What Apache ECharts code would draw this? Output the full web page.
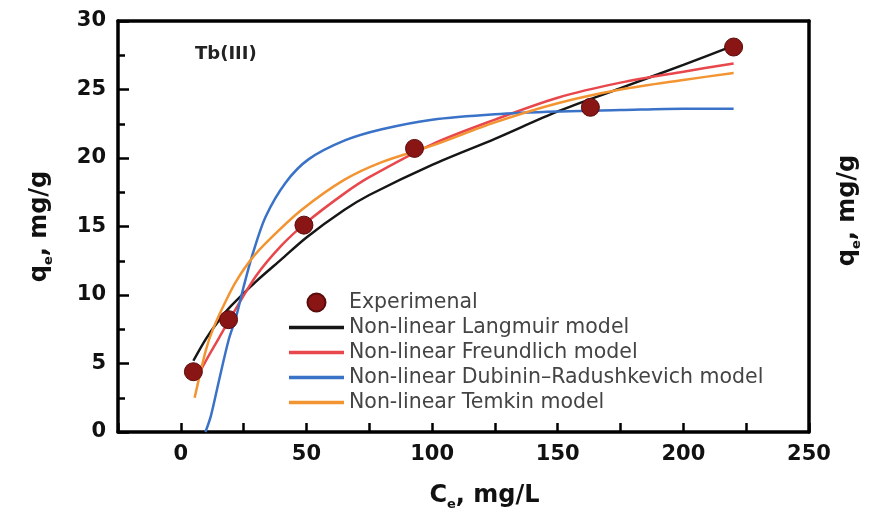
<!DOCTYPE html>
<html>
<head>
<meta charset="utf-8">
<script src="https://cdn.jsdelivr.net/npm/echarts@6/dist/echarts.min.js"></script>
<style>
html,body{margin:0;padding:0;background:#fff}
#main{width:871px;height:520px}
</style>
</head>
<body>
<div id="main"></div>
<script>
// experimental points
var expC = [5, 19, 49, 93, 163, 220];
var expQ = [4.4, 8.2, 15.1, 20.7, 23.7, 28.1];

// model curves
var langC = [5, 10, 15, 20, 30, 40, 50, 65, 75, 100, 125, 150, 175, 200, 220];
var langQ = [5.2, 6.8, 8.1, 9.2, 11.0, 12.6, 14.2, 16.2, 17.3, 19.5, 21.4, 23.4, 25.1, 26.8, 28.2];

var freuC = [6, 10, 15, 20, 30, 40, 50, 65, 75, 100, 125, 150, 175, 200, 220];
var freuQ = [3.8, 5.2, 6.8, 8.4, 11.4, 13.6, 15.3, 17.4, 18.6, 21.0, 22.8, 24.4, 25.5, 26.3, 26.9];

var drC = [9.8, 12, 15, 19, 22, 25, 28.6, 33.7, 41.7, 50.8, 65.5, 80, 100, 125, 150, 175, 200, 220];
var drQ = [0, 1.2, 3.6, 6.7, 8.4, 10.6, 13.0, 15.7, 18.2, 19.9, 21.3, 22.1, 22.8, 23.2, 23.4, 23.5, 23.6, 23.6];

var temC = [5.5, 10, 13, 18, 22, 28, 35, 48, 65, 80, 100, 125, 150, 175, 200, 220];
var temQ = [2.5, 6.0, 7.6, 9.6, 11.0, 12.6, 14.0, 16.2, 18.4, 19.7, 20.9, 22.6, 24.0, 25.0, 25.7, 26.2];

var xTicks = [0, 50, 100, 150, 200, 250];

function pairs(xs, ys){
	var out = [];
	for(var i=0;i<xs.length;i++){ out.push([xs[i], ys[i]]); }
	return out;
}

var FONT = 'DejaVu Sans';
var nameRich = {
	a:{fontFamily:FONT, fontWeight:'bold', fontSize:24, color:'#111', lineHeight:30},
	s:{fontFamily:FONT, fontWeight:'bold', fontSize:13, color:'#111', lineHeight:12, verticalAlign:'bottom'}
};
var LINE_ICON = 'path://M0 0H100V6H0Z';

function lineSeries(name, xs, ys, color){
	return {
		name:name,
		type:'line',
		data:pairs(xs, ys),
		smooth:0.3,
		symbol:'none',
		lineStyle:{color:color, width:2.5},
		itemStyle:{color:color},
		z:3
	};
}

var myChart = echarts.init(document.getElementById('main'));

var option = {
	animation:false,
	backgroundColor:'#fff',
	grid:{left:118, right:61, top:21, bottom:88},
	graphic:[{
		type:'text',
		left:195, top:45,
		style:{text:'Tb(III)', fontFamily:FONT, fontWeight:'bold', fontSize:18, fill:'#222'}
	}],
	legend:{
		orient:'vertical',
		left:284, top:287,
		itemWidth:55, itemHeight:18, itemGap:4,
		symbolKeepAspect:true,
		textStyle:{fontFamily:FONT, fontSize:20.5, color:'#444'},
		data:[
			{name:'Experimenal', icon:'circle'},
			{name:'Non-linear Langmuir model', icon:LINE_ICON},
			{name:'Non-linear Freundlich model', icon:LINE_ICON},
			{name:'Non-linear Dubinin–Radushkevich model', icon:LINE_ICON},
			{name:'Non-linear Temkin model', icon:LINE_ICON}
		]
	},
	xAxis:[{
		type:'value',
		min:-25, max:250, interval:25,
		position:'bottom',
		name:'{a|C}{s|e}{a|, mg/L}',
		nameLocation:'middle',
		nameGap:49,
		nameTextStyle:{rich:nameRich, padding:[0,0,0,42]},
		axisLine:{onZero:false, lineStyle:{color:'#000', width:3.5}},
		axisTick:{inside:true, length:9, lineStyle:{color:'#000', width:2.5}},
		axisLabel:{
			margin:12, fontFamily:FONT, fontWeight:'bold', fontSize:21, color:'#111',
			formatter:function(v){ return xTicks.indexOf(v) >= 0 ? String(v) : ''; }
		},
		splitLine:{show:false}
	},{
		type:'value',
		min:-25, max:250,
		position:'top',
		axisLine:{onZero:false, lineStyle:{color:'#000', width:3.5}},
		axisTick:{show:false},
		axisLabel:{show:false},
		splitLine:{show:false}
	}],
	yAxis:[{
		type:'value',
		min:0, max:30, interval:5,
		position:'left',
		name:'{a|q}{s|e}{a|, mg/g}',
		nameLocation:'middle',
		nameGap:63,
		nameTextStyle:{rich:nameRich},
		axisLine:{onZero:false, lineStyle:{color:'#000', width:3.5}},
		axisTick:{inside:true, length:11, lineStyle:{color:'#000', width:2.5}},
		minorTick:{show:true, splitNumber:2, length:7, lineStyle:{color:'#000', width:2.5}},
		axisLabel:{margin:12, fontFamily:FONT, fontWeight:'bold', fontSize:21, color:'#111'},
		splitLine:{show:false}
	},{
		type:'value',
		min:0, max:30,
		position:'right',
		name:'{a|q}{s|e}{a|, mg/g}',
		nameLocation:'middle',
		nameRotate:90,
		nameGap:24,
		nameTextStyle:{rich:nameRich, padding:[0,0,0,32]},
		axisLine:{onZero:false, lineStyle:{color:'#000', width:3.5}},
		axisTick:{show:false},
		axisLabel:{show:false},
		splitLine:{show:false}
	}],
	series:[
		{
			name:'Experimenal',
			type:'scatter',
			data:pairs(expC, expQ),
			symbol:'circle',
			symbolSize:18,
			itemStyle:{color:'#8a1515', borderColor:'#5c0b0b', borderWidth:1, opacity:1},
			z:5
		},
		lineSeries('Non-linear Langmuir model', langC, langQ, '#161616'),
		lineSeries('Non-linear Freundlich model', freuC, freuQ, '#e8474c'),
		lineSeries('Non-linear Dubinin–Radushkevich model', drC, drQ, '#3a72c8'),
		lineSeries('Non-linear Temkin model', temC, temQ, '#f39433')
	]
};

myChart.setOption(option);
</script>
</body>
</html>
